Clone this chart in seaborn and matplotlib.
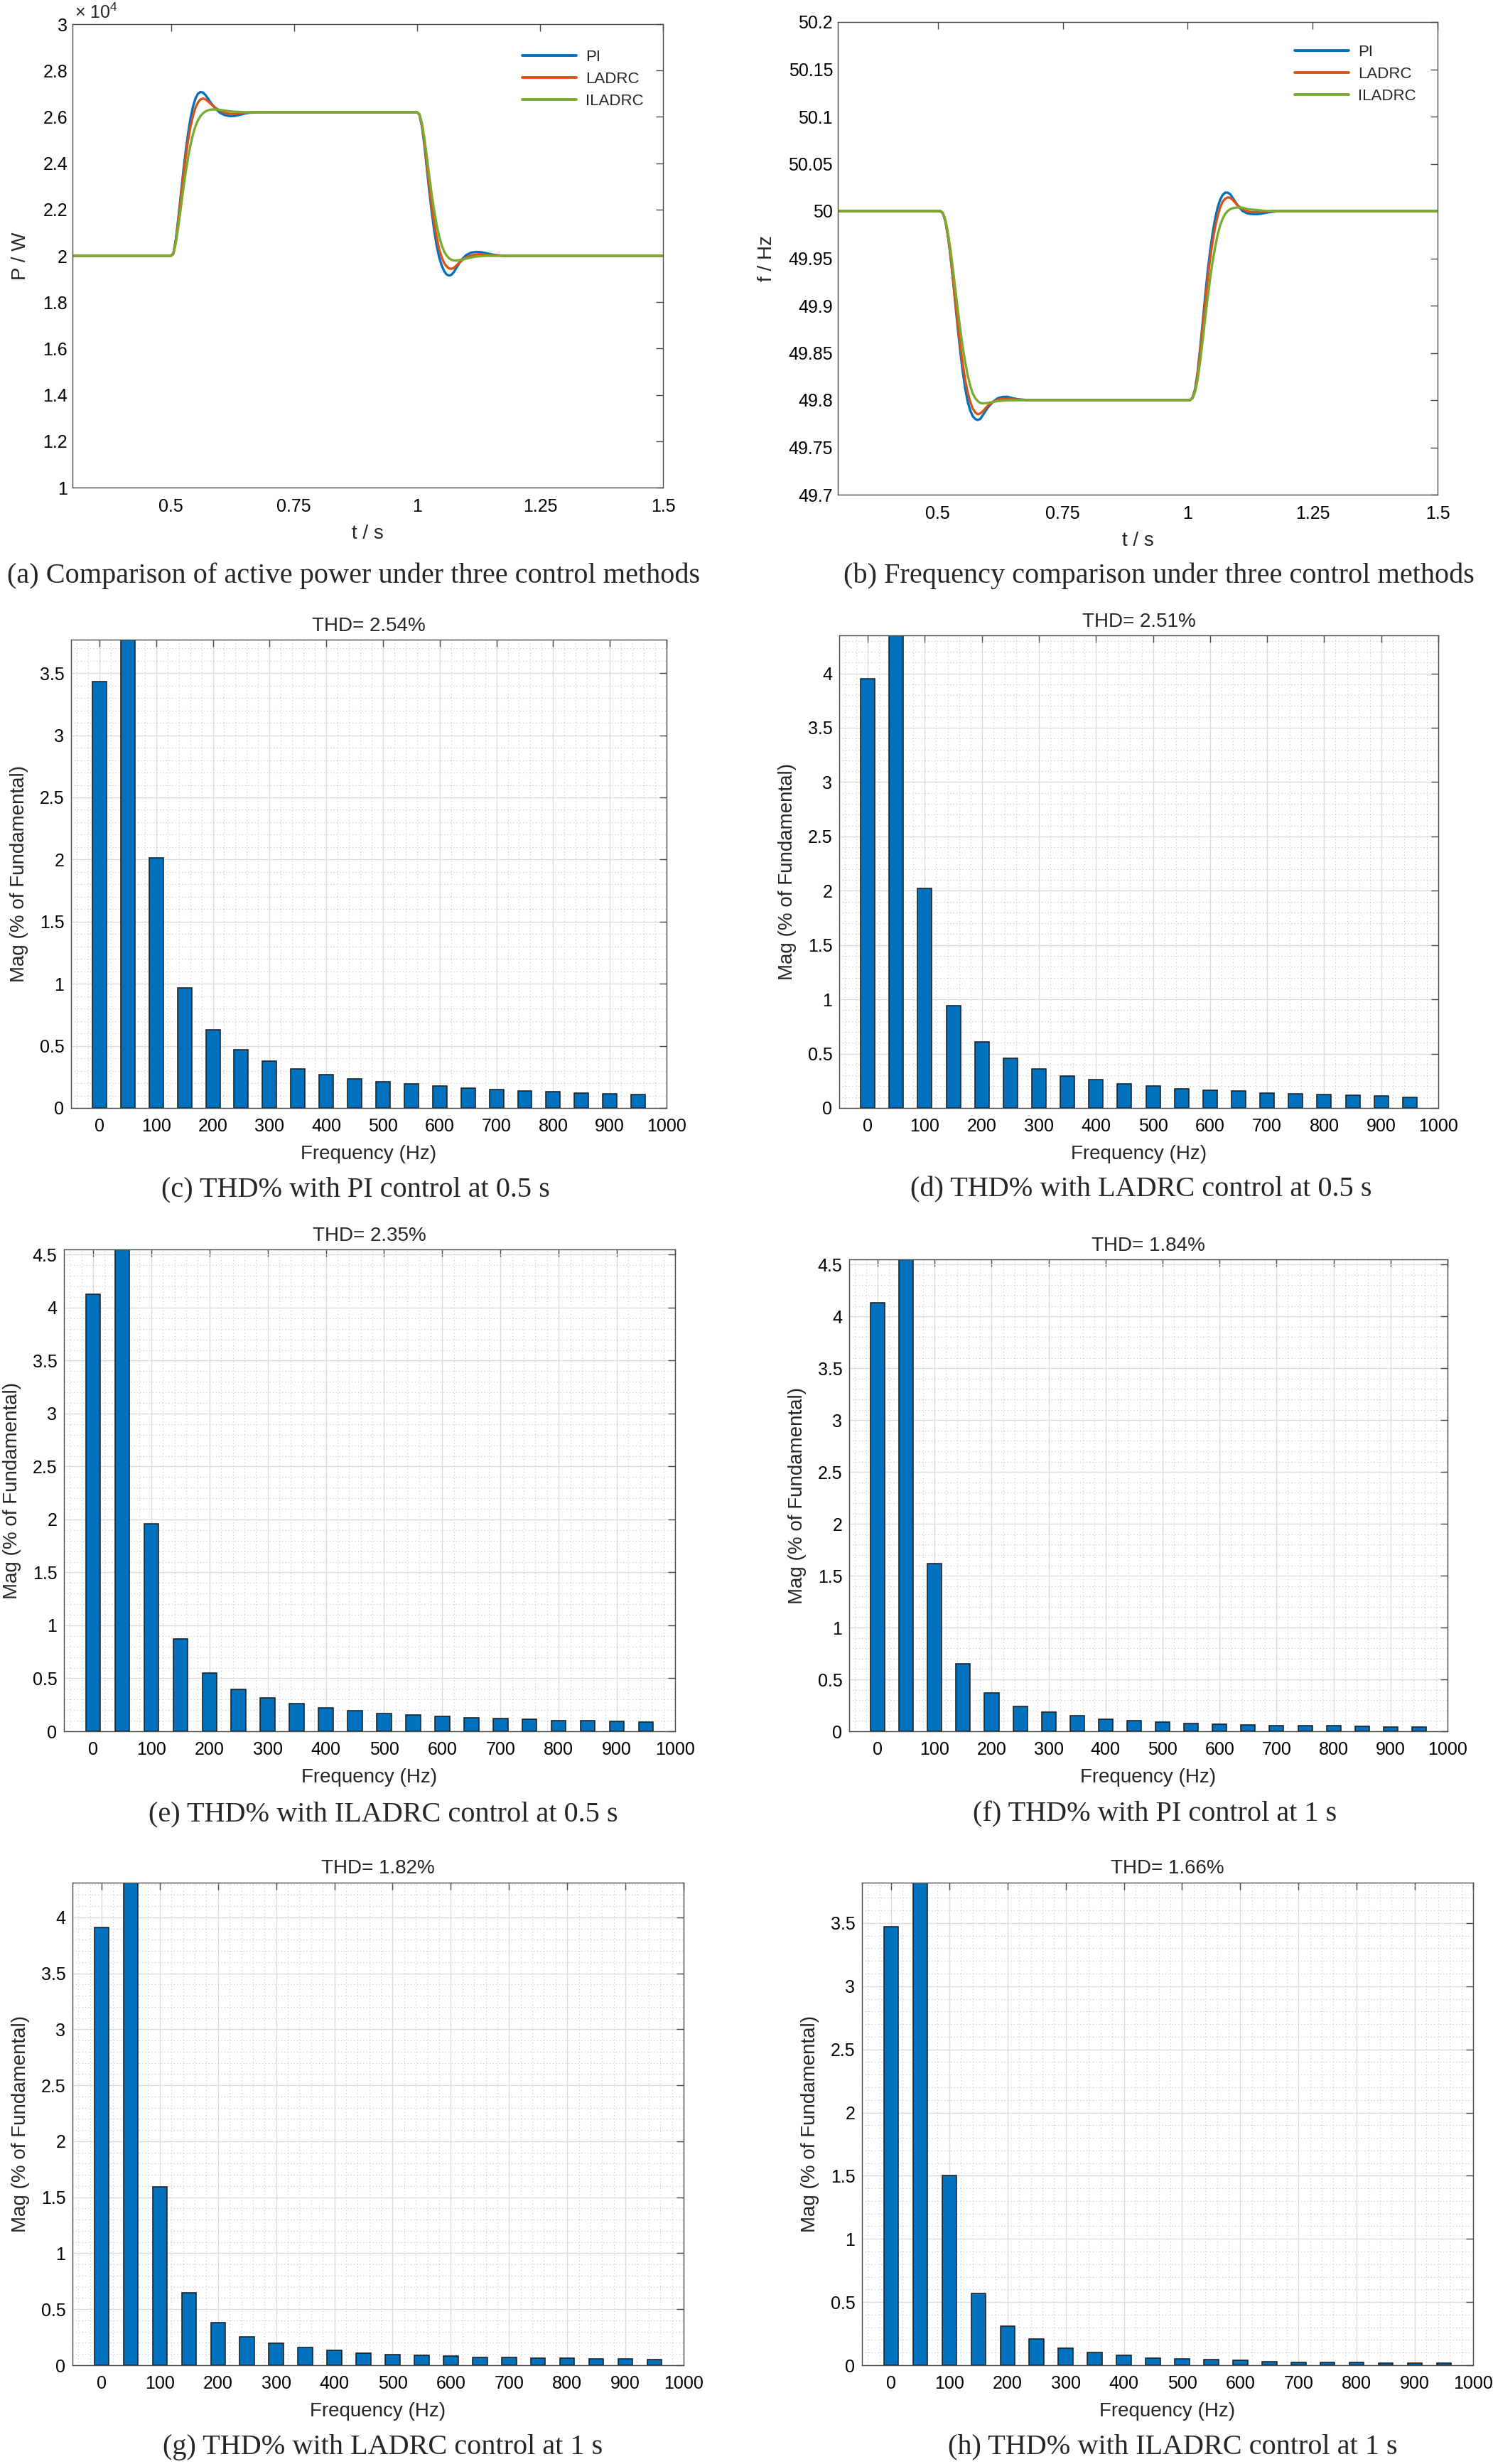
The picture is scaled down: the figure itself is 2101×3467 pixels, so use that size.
import numpy as np
import matplotlib
matplotlib.use('Agg')
import matplotlib.pyplot as plt
import seaborn as sns
from matplotlib.ticker import MultipleLocator, FuncFormatter, FixedLocator

# ---------------- data: (a) active power (W) ----------------
P_T_PI = [0.30, 0.500, 0.505, 0.510, 0.515, 0.520, 0.525, 0.530, 0.535, 0.540, 0.545, 0.550, 0.555,
          0.560, 0.565, 0.570, 0.575, 0.580, 0.590, 0.600, 0.610, 0.620, 0.630, 0.640, 0.650, 0.660,
          0.680, 0.700, 1.000, 1.005, 1.010, 1.015, 1.020, 1.025, 1.030, 1.035, 1.040, 1.045, 1.050,
          1.055, 1.060, 1.065, 1.070, 1.075, 1.080, 1.090, 1.100, 1.110, 1.120, 1.130, 1.140, 1.150,
          1.160, 1.180, 1.50]
P_PI = [20000, 20000, 20100, 20700, 21600, 22600, 23600, 24500, 25300, 25950, 26450, 26800, 27000,
        27070, 27050, 26950, 26800, 26640, 26370, 26170, 26070, 26030, 26040, 26090, 26140, 26180,
        26200, 26200, 26200, 26100, 25600, 24800, 23800, 22800, 21900, 21100, 20450, 19950, 19600,
        19350, 19200, 19150, 19180, 19300, 19480, 19820, 20030, 20140, 20170, 20160, 20120, 20070,
        20030, 20000, 20000]

P_T_LADRC = [0.30, 0.500, 0.505, 0.510, 0.515, 0.520, 0.525, 0.530, 0.535, 0.540, 0.545, 0.550, 0.555,
             0.560, 0.565, 0.570, 0.575, 0.580, 0.590, 0.600, 0.610, 0.620, 0.630, 0.640, 0.660, 0.700,
             1.000, 1.005, 1.010, 1.015, 1.020, 1.025, 1.030, 1.035, 1.040, 1.045, 1.050, 1.055, 1.060,
             1.065, 1.070, 1.075, 1.080, 1.090, 1.100, 1.110, 1.120, 1.130, 1.140, 1.160, 1.180, 1.50]
P_LADRC = [20000, 20000, 20100, 20650, 21500, 22450, 23400, 24250, 25000, 25600, 26050, 26400, 26620,
           26750, 26790, 26760, 26680, 26580, 26400, 26260, 26170, 26130, 26130, 26150, 26190, 26200,
           26200, 26100, 25650, 24900, 23950, 23000, 22150, 21400, 20800, 20300, 19950, 19700, 19550,
           19460, 19440, 19480, 19580, 19780, 19930, 20020, 20060, 20070, 20050, 20020, 20000, 20000]

P_T_ILADRC = [0.30, 0.500, 0.505, 0.510, 0.515, 0.520, 0.525, 0.530, 0.535, 0.540, 0.545, 0.550, 0.555,
              0.560, 0.565, 0.570, 0.575, 0.580, 0.585, 0.590, 0.600, 0.610, 0.620, 0.630, 0.650,
              1.000, 1.005, 1.010, 1.015, 1.020, 1.025, 1.030, 1.035, 1.040, 1.045, 1.050, 1.055, 1.060,
              1.065, 1.070, 1.075, 1.080, 1.090, 1.100, 1.110, 1.120, 1.140, 1.50]
P_ILADRC = [20000, 20000, 20080, 20550, 21250, 22050, 22850, 23600, 24250, 24800, 25250, 25600, 25850,
            26030, 26150, 26230, 26280, 26310, 26320, 26320, 26300, 26270, 26240, 26220, 26200,
            26200, 26120, 25750, 25100, 24300, 23450, 22650, 21950, 21350, 20850, 20480, 20200, 20020,
            19900, 19830, 19800, 19800, 19830, 19880, 19930, 19970, 20000, 20000]

# ---------------- data: (b) frequency (Hz) ----------------
F_T_PI = [0.30, 0.505, 0.510, 0.515, 0.520, 0.525, 0.530, 0.535, 0.540, 0.545, 0.550, 0.555, 0.560,
          0.565, 0.570, 0.575, 0.580, 0.585, 0.590, 0.600, 0.610, 0.620, 0.630, 0.640, 0.650, 0.660,
          0.680, 1.005, 1.010, 1.015, 1.020, 1.025, 1.030, 1.035, 1.040, 1.045, 1.050, 1.055, 1.060,
          1.065, 1.070, 1.075, 1.080, 1.085, 1.090, 1.100, 1.110, 1.120, 1.130, 1.140, 1.150, 1.160,
          1.180, 1.50]
F_PI = [50.000, 50.000, 49.998, 49.990, 49.975, 49.955, 49.930, 49.903, 49.876, 49.852, 49.830, 49.812, 49.798,
        49.789, 49.783, 49.780, 49.779, 49.780, 49.784, 49.792, 49.798, 49.802, 49.8035, 49.8035, 49.802, 49.801,
        49.800, 49.800, 49.803, 49.812, 49.830, 49.855, 49.882, 49.910, 49.936, 49.958, 49.977, 49.992, 50.004,
        50.012, 50.017, 50.0195, 50.0195, 50.018, 50.014, 50.006, 50.000, 49.9975, 49.9968, 49.9968, 49.9975, 49.9985,
        50.000, 50.000]

F_T_LADRC = [0.30, 0.505, 0.510, 0.515, 0.520, 0.525, 0.530, 0.535, 0.540, 0.545, 0.550, 0.555, 0.560,
             0.565, 0.570, 0.575, 0.580, 0.585, 0.590, 0.600, 0.610, 0.620, 0.630, 0.640, 0.660, 0.680,
             1.005, 1.010, 1.015, 1.020, 1.025, 1.030, 1.035, 1.040, 1.045, 1.050, 1.055, 1.060, 1.065,
             1.070, 1.075, 1.080, 1.085, 1.090, 1.100, 1.110, 1.120, 1.130, 1.150, 1.170, 1.50]
F_LADRC = [50.000, 50.000, 49.998, 49.990, 49.975, 49.955, 49.931, 49.905, 49.880, 49.858, 49.838, 49.821, 49.808,
           49.798, 49.791, 49.787, 49.785, 49.786, 49.788, 49.794, 49.798, 49.8005, 49.8015, 49.8015, 49.8005, 49.800,
           49.800, 49.803, 49.811, 49.828, 49.851, 49.877, 49.903, 49.928, 49.950, 49.968, 49.983, 49.995, 50.004,
           50.010, 50.013, 50.0145, 50.014, 50.012, 50.006, 50.002, 49.9995, 49.9988, 49.9992, 50.000, 50.000]

F_T_ILADRC = [0.30, 0.505, 0.510, 0.515, 0.520, 0.525, 0.530, 0.535, 0.540, 0.545, 0.550, 0.555, 0.560,
              0.565, 0.570, 0.575, 0.580, 0.585, 0.590, 0.600, 0.610, 0.620, 0.640, 0.680,
              1.005, 1.010, 1.015, 1.020, 1.025, 1.030, 1.035, 1.040, 1.045, 1.050, 1.055, 1.060, 1.065,
              1.070, 1.075, 1.080, 1.085, 1.090, 1.100, 1.110, 1.120, 1.140, 1.160, 1.50]
F_ILADRC = [50.000, 50.000, 49.998, 49.991, 49.978, 49.961, 49.940, 49.918, 49.896, 49.875, 49.856, 49.840, 49.826,
            49.815, 49.807, 49.802, 49.799, 49.797, 49.7965, 49.797, 49.798, 49.799, 49.7998, 49.800,
            49.800, 49.802, 49.809, 49.822, 49.841, 49.863, 49.886, 49.908, 49.929, 49.947, 49.962, 49.975, 49.985,
            49.992, 49.997, 50.000, 50.002, 50.003, 50.004, 50.0035, 50.002, 50.001, 50.000, 50.000]

SERIES_NAMES = ['PI', 'LADRC', 'ILADRC']

# ---------------- data: THD spectra (% of fundamental) ----------------
FREQS = [0, 50, 100, 150, 200, 250, 300, 350, 400, 450, 500, 550, 600, 650, 700, 750, 800, 850, 900, 950]
MAG_C = [3.43, 100, 2.015, 0.964, 0.628, 0.468, 0.380, 0.315, 0.269, 0.236, 0.211, 0.193, 0.175, 0.159,
         0.147, 0.135, 0.132, 0.122, 0.113, 0.107]
MAG_D = [3.95, 100, 2.021, 0.941, 0.608, 0.455, 0.357, 0.297, 0.259, 0.224, 0.206, 0.178, 0.164, 0.154,
         0.140, 0.129, 0.122, 0.115, 0.108, 0.101]
MAG_E = [4.13, 100, 1.962, 0.875, 0.549, 0.394, 0.314, 0.261, 0.223, 0.197, 0.170, 0.152, 0.144, 0.129,
         0.121, 0.114, 0.102, 0.098, 0.091, 0.087]
MAG_F = [4.13, 100, 1.615, 0.654, 0.373, 0.238, 0.185, 0.150, 0.119, 0.104, 0.088, 0.077, 0.069, 0.065,
         0.058, 0.054, 0.058, 0.050, 0.042, 0.042]
MAG_G = [3.91, 100, 1.593, 0.650, 0.379, 0.254, 0.196, 0.157, 0.132, 0.111, 0.096, 0.089, 0.082, 0.068,
         0.068, 0.064, 0.061, 0.057, 0.054, 0.050]
MAG_H = [3.47, 100, 1.503, 0.566, 0.310, 0.206, 0.133, 0.104, 0.079, 0.057, 0.051, 0.044, 0.038, 0.028,
         0.025, 0.025, 0.022, 0.019, 0.016, 0.016]
THD_TITLES = ['THD= 2.54%', 'THD= 2.51%', 'THD= 2.35%', 'THD= 1.84%', 'THD= 1.82%', 'THD= 1.66%']
THD_YMAX = [3.77, 4.35, 4.55, 4.55, 4.31, 3.82]

CAPTIONS = ['(a) Comparison of active power under three control methods',
            '(b) Frequency comparison under three control methods',
            '(c) THD% with PI control at 0.5 s',
            '(d) THD% with LADRC control at 0.5 s',
            '(e) THD% with ILADRC control at 0.5 s',
            '(f) THD% with PI control at 1 s',
            '(g) THD% with LADRC control at 1 s',
            '(h) THD% with ILADRC control at 1 s']

# ---------------- style ----------------
sns.set_theme(style='white')
plt.rcParams['font.family'] = ['Liberation Sans', 'DejaVu Sans']
plt.rcParams['mathtext.fontset'] = 'custom'
plt.rcParams['mathtext.rm'] = 'Liberation Sans'
plt.rcParams['mathtext.default'] = 'regular'

COLORS = ['#0072BD', '#D95319', '#77AC30']
BAR_COLOR = '#0072BD'
SPINE = '#4a4a4a'

W, H = 2101, 3467
fig = plt.figure(figsize=(W / 100, H / 100), dpi=100)


def add_ax(l, t, r, b):
    return fig.add_axes([l / W, 1 - b / H, (r - l) / W, (b - t) / H])


def style_axes(ax, xpad=10, ypad=6):
    for s in ax.spines.values():
        s.set_visible(True)
        s.set_color(SPINE)
        s.set_linewidth(1.0)
    ax.tick_params(which='major', direction='in', top=True, right=True, length=7, width=1,
                   color=SPINE, labelsize=18, labelcolor='black')
    ax.tick_params(axis='x', which='major', pad=xpad)
    ax.tick_params(axis='y', which='major', pad=ypad)
    ax.tick_params(which='minor', length=0)


def place_labels(ax, box, yoff=60):
    l, t, r, b = box
    ax.yaxis.set_label_coords(-yoff / (r - l), 0.5)
    ax.xaxis.set_label_coords(0.5, -52 / (b - t))


# ---------------- (a) active power ----------------
box_a = (102, 34, 933, 686)
ax = add_ax(*box_a)
for tt, yy, name, c in zip([P_T_PI, P_T_LADRC, P_T_ILADRC], [P_PI, P_LADRC, P_ILADRC], SERIES_NAMES, COLORS):
    sns.lineplot(x=tt, y=yy, ax=ax, color=c, linewidth=2.4, label=name, sort=False, estimator=None)
ax.set_xlim(0.3, 1.5)
ax.set_ylim(1e4, 3e4)
ax.xaxis.set_major_locator(FixedLocator([0.5, 0.75, 1.0, 1.25, 1.5]))
ax.xaxis.set_major_formatter(FuncFormatter(lambda v, p: f'{round(v, 3):g}'))
ax.yaxis.set_major_locator(MultipleLocator(2000))
ax.yaxis.set_major_formatter(FuncFormatter(lambda v, p: f'{round(v / 1e4, 3):g}'))
style_axes(ax, xpad=11, ypad=5)
ax.set_xlabel('t / s', fontsize=20)
ax.set_ylabel('P / W', fontsize=20)
place_labels(ax, box_a, yoff=60)
ax.text(0.004, 1.004, '× 10$^{4}$', transform=ax.transAxes, ha='left', va='bottom', fontsize=18)
leg = ax.legend(loc='upper left', bbox_to_anchor=(0.762, 0.945), frameon=False, fontsize=16,
                handlelength=3.4, handletextpad=0.6, labelspacing=0.45, borderpad=0, borderaxespad=0)
for h in leg.get_lines():
    h.set_linewidth(2.8)

# ---------------- (b) frequency ----------------
box_b = (1179, 31, 2023, 696)
ax = add_ax(*box_b)
for tt, yy, name, c in zip([F_T_PI, F_T_LADRC, F_T_ILADRC], [F_PI, F_LADRC, F_ILADRC], SERIES_NAMES, COLORS):
    sns.lineplot(x=tt, y=yy, ax=ax, color=c, linewidth=2.4, label=name, sort=False, estimator=None)
ax.set_xlim(0.3, 1.5)
ax.set_ylim(49.7, 50.2)
ax.xaxis.set_major_locator(FixedLocator([0.5, 0.75, 1.0, 1.25, 1.5]))
ax.xaxis.set_major_formatter(FuncFormatter(lambda v, p: f'{round(v, 3):g}'))
ax.yaxis.set_major_locator(FixedLocator([49.7, 49.75, 49.8, 49.85, 49.9, 49.95, 50.0, 50.05, 50.1, 50.15, 50.2]))
ax.yaxis.set_major_formatter(FuncFormatter(lambda v, p: f'{round(v, 3):g}'))
style_axes(ax, xpad=11, ypad=5)
ax.set_xlabel('t / s', fontsize=20)
ax.set_ylabel('f / Hz', fontsize=20)
place_labels(ax, box_b, yoff=87)
leg = ax.legend(loc='upper left', bbox_to_anchor=(0.762, 0.952), frameon=False, fontsize=16,
                handlelength=3.4, handletextpad=0.6, labelspacing=0.45, borderpad=0, borderaxespad=0)
for h in leg.get_lines():
    h.set_linewidth(2.8)

# ---------------- THD panels ----------------
thd_boxes = [(100, 900, 938, 1559), (1181, 894, 2024, 1559),
             (90, 1758, 950, 2436), (1195, 1772, 2037, 2436),
             (102, 2649, 962, 3328), (1213, 2649, 2073, 3328)]
mags = [MAG_C, MAG_D, MAG_E, MAG_F, MAG_G, MAG_H]

for box, mag, title, ymax in zip(thd_boxes, mags, THD_TITLES, THD_YMAX):
    ax = add_ax(*box)
    ax.set_axisbelow(True)
    sns.barplot(x=FREQS, y=mag, ax=ax, native_scale=True, width=0.5, color=BAR_COLOR, saturation=1,
                edgecolor='#1a1a1a', linewidth=1.1, errorbar=None)
    ax.set_xlim(-50, 1000)
    ax.set_ylim(0, ymax)
    ax.xaxis.set_major_locator(MultipleLocator(100))
    ax.xaxis.set_minor_locator(MultipleLocator(20))
    ax.yaxis.set_major_locator(MultipleLocator(0.5))
    ax.yaxis.set_minor_locator(MultipleLocator(0.1))
    ax.xaxis.set_major_formatter(FuncFormatter(lambda v, p: f'{int(round(v))}'))
    ax.yaxis.set_major_formatter(FuncFormatter(lambda v, p: f'{round(v, 2):g}'))
    ax.grid(which='major', color='#dcdcdc', linewidth=1.0, linestyle='-')
    ax.grid(which='minor', color='#c4c4c4', linewidth=0.8, linestyle=(0, (1, 3)))
    style_axes(ax, xpad=10, ypad=7)
    ax.set_title(title, fontsize=20, pad=9)
    ax.set_xlabel('Frequency (Hz)', fontsize=20)
    ax.set_ylabel('Mag (% of Fundamental)', fontsize=20)
    place_labels(ax, box, yoff=60)

# ---------------- captions ----------------
cap_pos = [(498, 810), (1631, 810), (500, 1674), (1606, 1674),
           (539, 2553), (1625, 2553), (539, 3443), (1650, 3443)]
for (cx, cy), txt in zip(cap_pos, CAPTIONS):
    fig.text(cx / W, 1 - cy / H, txt, ha='center', va='center',
             family=['Liberation Serif', 'DejaVu Serif'], fontsize=29)

fig.savefig('out.png', dpi=100, facecolor='white')
